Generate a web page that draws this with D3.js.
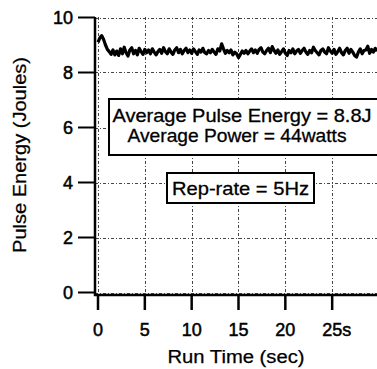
<!DOCTYPE html>
<html><head><meta charset="utf-8">
<script src="https://cdn.jsdelivr.net/npm/d3@7"></script>
<style>
html,body{margin:0;padding:0;background:#fff;}
svg{display:block;}
text{font-family:"Liberation Sans",Arial,Helvetica,sans-serif;fill:#000;}
</style></head>
<body>
<svg id="c" width="377" height="369"></svg>
<script>
// ---- data ----
const repRateHz = 5; // samples per second
const pulseEnergy = [
  9.10, 9.26, 9.34, 9.20, 9.00, 8.84, 8.76, 8.66, 8.82, 8.64,
  8.78, 8.62, 8.86, 8.68, 8.92, 8.72, 8.60, 8.82, 8.90, 8.68,
  8.80, 8.64, 8.88, 8.76, 8.66, 8.84, 8.72, 8.82, 8.68, 8.86,
  8.74, 8.64, 8.76, 8.84, 8.70, 8.90, 8.76, 8.68, 8.86, 8.74,
  8.66, 8.82, 8.90, 8.72, 8.84, 8.68, 8.80, 8.88, 8.72, 8.82,
  8.70, 8.86, 8.76, 8.66, 8.82, 8.74, 8.88, 8.72, 8.68, 8.80,
  8.72, 8.84, 8.74, 8.66, 8.86, 8.78, 9.04, 8.86, 8.70, 8.80,
  8.72, 8.82, 8.64, 8.74, 8.68, 8.54, 8.66, 8.78, 8.70, 8.80,
  8.68, 8.78, 8.86, 8.72, 8.82, 8.70, 8.84, 8.90, 8.74, 8.68,
  8.80, 8.88, 8.72, 8.94, 8.80, 8.70, 8.82, 8.66, 8.76, 8.86,
  8.70, 8.62, 8.80, 8.72, 8.86, 8.68, 8.78, 8.84, 8.70, 8.80,
  8.88, 8.74, 8.66, 8.80, 8.72, 8.92, 8.80, 8.72, 8.64, 8.80,
  8.86, 8.74, 8.68, 8.90, 8.78, 8.70, 8.84, 8.66, 8.76, 8.88,
  8.72, 8.64, 8.80, 8.88, 8.70, 8.84, 8.74, 8.62, 8.56, 8.74,
  8.86, 8.68, 8.80, 8.82, 8.96, 8.70, 8.84, 8.74, 8.88, 8.78
];
const xTicks = [0, 5, 10, 15, 20, 25];
const xTickLabels = ["0", "5", "10", "15", "20", "25s"];
const yTicks = [0, 2, 4, 6, 8, 10];
const yTickLabels = ["0", "2", "4", "6", "8", "10"];
const xTitle = "Run Time (sec)";
const yTitle = "Pulse Energy (Joules)";
const box1Lines = ["Average Pulse Energy = 8.8J", "Average Power = 44watts"];
const box2Text = "Rep-rate = 5Hz";

// ---- layout ----
const svg = d3.select("#c");
const axisX = 95, axisY = 295, plotTop = 17, plotRight = 377;
const x = d3.scaleLinear().domain([-0.32, 30]).range([95, 379]);
const y = d3.scaleLinear().domain([0, 10]).range([292.5, 17.5]);

const series = pulseEnergy.map((v, i) => ({t: i / repRateHz, v}));

// grid
const grid = svg.append("g").attr("stroke", "#444").attr("stroke-width", 1)
  .attr("stroke-dasharray", "3,2,1,2");
grid.selectAll("line.h").data(yTicks).join("line").attr("class", "h")
  .attr("x1", axisX).attr("x2", plotRight)
  .attr("y1", d => Math.round(y(d)) + 0.5).attr("y2", d => Math.round(y(d)) + 0.5);
grid.selectAll("line.v").data(xTicks).join("line").attr("class", "v")
  .attr("x1", d => Math.round(x(d)) + 0.5).attr("x2", d => Math.round(x(d)) + 0.5)
  .attr("y1", plotTop).attr("y2", axisY);

// data line
const line = d3.line().x(d => x(d.t)).y(d => y(d.v));
svg.append("path").datum(series).attr("d", line)
  .attr("fill", "none").attr("stroke", "#000").attr("stroke-width", 3.2)
  .attr("stroke-linejoin", "round");

// axes lines
svg.append("line").attr("x1", axisX).attr("x2", axisX).attr("y1", plotTop).attr("y2", axisY + 1)
  .attr("stroke", "#000").attr("stroke-width", 2.5);
svg.append("line").attr("x1", axisX - 1).attr("x2", plotRight).attr("y1", axisY).attr("y2", axisY)
  .attr("stroke", "#000").attr("stroke-width", 2.5);

// y ticks + labels
svg.selectAll("line.yt").data(yTicks).join("line").attr("class", "yt")
  .attr("x1", 78).attr("x2", axisX).attr("y1", d => y(d)).attr("y2", d => y(d))
  .attr("stroke", "#000").attr("stroke-width", 2);
svg.selectAll("text.yl").data(yTicks).join("text").attr("class", "yl")
  .attr("x", 73).attr("y", d => y(d) + 6.5).attr("text-anchor", "end")
  .attr("font-size", 18).attr("stroke", "#000").attr("stroke-width", 0.5)
  .text((d, i) => yTickLabels[i]);

// x ticks + labels
svg.selectAll("line.xt").data(xTicks).join("line").attr("class", "xt")
  .attr("x1", d => x(d)).attr("x2", d => x(d)).attr("y1", axisY + 1).attr("y2", 310)
  .attr("stroke", "#000").attr("stroke-width", 2.5);
svg.selectAll("text.xl").data(xTicks).join("text").attr("class", "xl")
  .attr("x", d => x(d)).attr("y", 336)
  .attr("text-anchor", (d, i) => xTickLabels[i].endsWith("s") ? "start" : "middle")
  .attr("dx", (d, i) => xTickLabels[i].endsWith("s") ? -10 : 0)
  .attr("font-size", 18).attr("stroke", "#000").attr("stroke-width", 0.5)
  .text((d, i) => xTickLabels[i]);

// titles
svg.append("text").attr("x", 236).attr("y", 363).attr("text-anchor", "middle")
  .attr("font-size", 18).attr("textLength", 137).attr("lengthAdjust", "spacingAndGlyphs")
  .attr("stroke", "#000").attr("stroke-width", 0.25)
  .text(xTitle);
svg.append("text").attr("transform", "translate(26,155) rotate(-90)").attr("text-anchor", "middle")
  .attr("font-size", 18).attr("textLength", 196).attr("lengthAdjust", "spacingAndGlyphs")
  .attr("stroke", "#000").attr("stroke-width", 0.25)
  .text(yTitle);

// annotation box 1
svg.append("rect").attr("x", 109).attr("y", 99).attr("width", 276).attr("height", 56)
  .attr("fill", "#fff").attr("stroke", "#000").attr("stroke-width", 2);
svg.append("text").attr("x", 242).attr("y", 122).attr("text-anchor", "middle")
  .attr("font-size", 18.5).attr("textLength", 259).attr("lengthAdjust", "spacingAndGlyphs")
  .attr("stroke", "#000").attr("stroke-width", 0.3)
  .text(box1Lines[0]);
svg.append("text").attr("x", 237).attr("y", 142).attr("text-anchor", "middle")
  .attr("font-size", 18.5).attr("textLength", 219).attr("lengthAdjust", "spacingAndGlyphs")
  .attr("stroke", "#000").attr("stroke-width", 0.3)
  .text(box1Lines[1]);

// annotation box 2
svg.append("rect").attr("x", 167).attr("y", 173).attr("width", 147).attr("height", 30)
  .attr("fill", "#fff").attr("stroke", "#000").attr("stroke-width", 2);
svg.append("text").attr("x", 240.5).attr("y", 195).attr("text-anchor", "middle")
  .attr("font-size", 18.5).attr("textLength", 137).attr("lengthAdjust", "spacingAndGlyphs")
  .attr("stroke", "#000").attr("stroke-width", 0.3)
  .text(box2Text);
</script>
</body></html>
